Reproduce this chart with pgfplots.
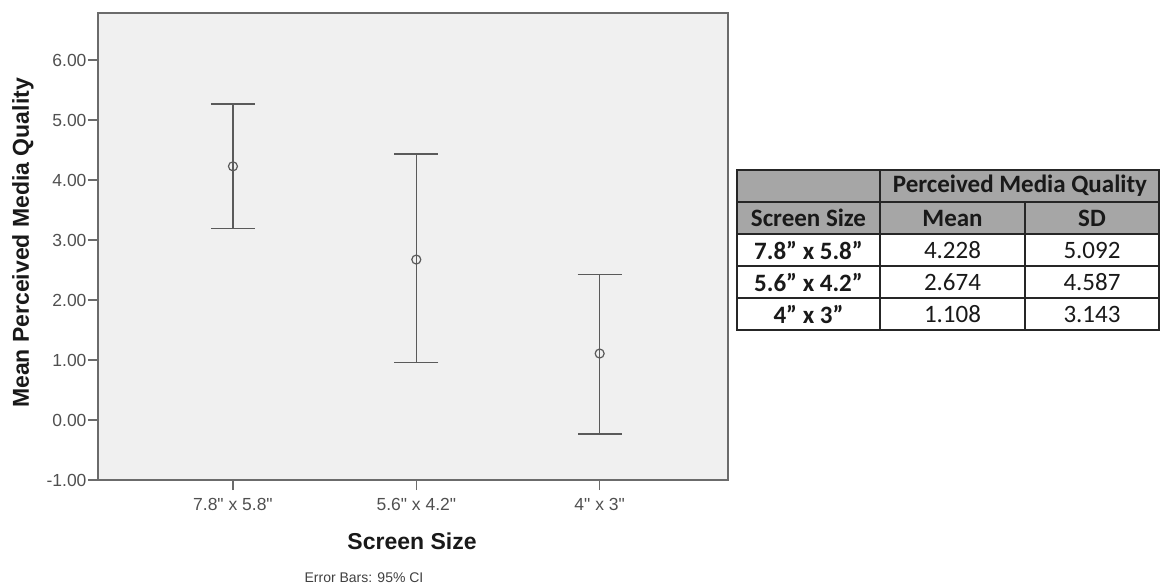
\documentclass[border=0pt]{standalone}
\usepackage{pgfplots}
\pgfplotsset{compat=1.18}
\usepackage{pgfplotstable}
\usepackage{fontspec}
\setmainfont{Liberation Sans}
\newfontfamily\tickfont{Liberation Sans}
\newfontfamily\calibri{Carlito}
\definecolor{plotbg}{HTML}{F0F0F0}
\definecolor{framegray}{HTML}{6B6B6B}
\definecolor{bargray}{HTML}{5A5A5A}
\definecolor{labgray}{HTML}{505050}
\definecolor{hdrgray}{HTML}{A6A6A6}

\pgfplotstableread{
x y ep em
0 4.228 1.039 1.038
1 2.674 1.756 1.719
2 1.108 1.320 1.341
}\means

\begin{document}
\begin{tikzpicture}[x=1pt,y=1pt]
\path[use as bounding box] (0,0) rectangle (1161,-588);
\begin{axis}[at={(98pt,-480pt)}, anchor=south west, scale only axis,
  width=630pt, height=467pt,
  xmin=-0.736, xmax=2.70, ymin=-1, ymax=6.783,
  axis background/.style={fill=plotbg},
  axis line style={draw=framegray, line width=1.6pt},
  xtick={0,1,2}, xticklabels={7.8" x 5.8", 5.6" x 4.2", 4" x 3"},
  ytick={-1,0,1,2,3,4,5,6},
  yticklabels={-1.00,0.00,1.00,2.00,3.00,4.00,5.00,6.00},
  tick pos=left, tick align=outside, major tick length=10pt,
  tick style={draw=framegray, line width=1.3pt},
  ticklabel style={font=\tickfont\fontsize{17.5}{20}\selectfont, text=labgray},
  yticklabel style={xshift=2pt},
  xticklabel style={yshift=-5pt},
]
\addplot[only marks, draw=bargray, mark=o, mark size=4.5pt,
  mark options={line width=1.2pt, draw=bargray},
  error bars/.cd, y dir=both, y explicit,
  error bar style={draw=bargray, line width=1.5pt},
  error mark options={rotate=90, mark size=22pt, draw=bargray, line width=1.5pt}]
  table[x=x, y=y, y error plus=ep, y error minus=em] {\means};
\end{axis}
\node[rotate=90, font=\fontsize{23}{26}\selectfont\bfseries, text=black!90] at (23,-243) {Mean Perceived Media Quality};
\node[font=\fontsize{23}{26}\selectfont\bfseries, text=black!90] at (412,-541) {Screen Size};
\node[font=\fontsize{14}{16}\selectfont, text=black!75] at (364,-578) {Error Bars: 95\% CI};
% table
\fill[hdrgray] (737,-170) rectangle (1159,-234);
\begin{scope}[line width=1.5pt, draw=black!85]
\draw (737,-170) rectangle (1159,-330);
\foreach \yy in {202,234,266,298} {\draw (737,-\yy) -- (1159,-\yy);}
\draw (880,-170) -- (880,-330);
\draw (1025,-202) -- (1025,-330);
\end{scope}
\begin{scope}[every node/.style={font=\calibri\fontsize{25}{28}\selectfont, text=black!90, inner sep=0pt}]
\node[font=\calibri\fontsize{25}{28}\selectfont\bfseries] at (1020,-186) {Perceived Media Quality};
\node[font=\calibri\fontsize{25}{28}\selectfont\bfseries] at (808.5,-218) {Screen Size};
\node[font=\calibri\fontsize{25}{28}\selectfont\bfseries] at (952.5,-218) {Mean};
\node[font=\calibri\fontsize{25}{28}\selectfont\bfseries] at (1092,-218) {SD};
\node[font=\calibri\fontsize{25}{28}\selectfont\bfseries] at (808.5,-250) {7.8” x 5.8”};
\node[font=\calibri\fontsize{25}{28}\selectfont\bfseries] at (808.5,-282) {5.6” x 4.2”};
\node[font=\calibri\fontsize{25}{28}\selectfont\bfseries] at (808.5,-314) {4” x 3”};
\node at (952.5,-250) {4.228};
\node at (952.5,-282) {2.674};
\node at (952.5,-314) {1.108};
\node at (1092,-250) {5.092};
\node at (1092,-282) {4.587};
\node at (1092,-314) {3.143};
\end{scope}
\end{tikzpicture}
\end{document}
